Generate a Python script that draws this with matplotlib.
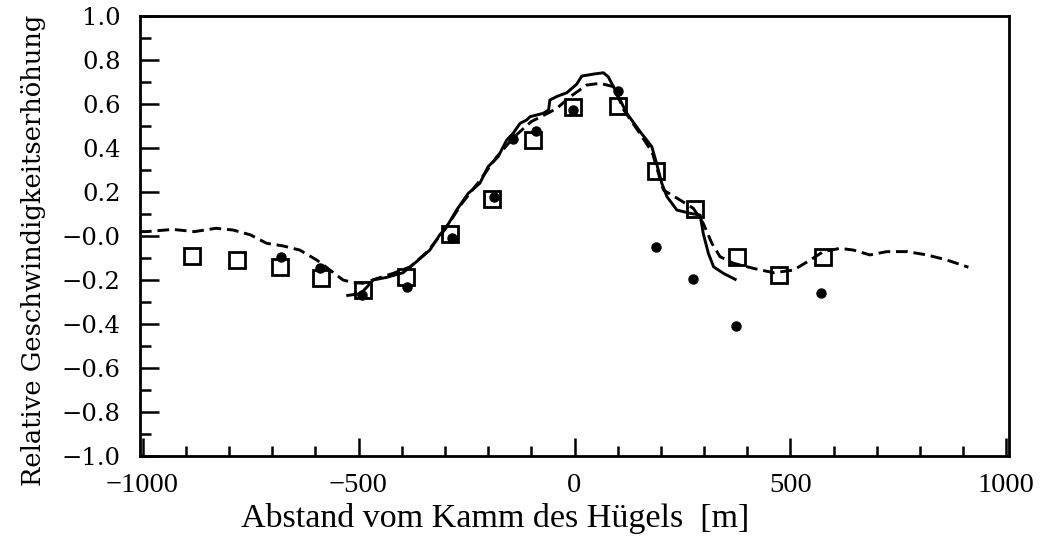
import matplotlib
matplotlib.use("Agg")
import matplotlib.pyplot as plt
from matplotlib.ticker import MultipleLocator, FixedLocator

# ---- data ----
square_x = [-885, -782, -682, -586, -490, -390, -288, -190, -95, -3, 100, 189, 278, 376, 474, 576]
square_y = [-0.09, -0.11, -0.14, -0.19, -0.245, -0.185, 0.01, 0.17, 0.436, 0.588, 0.59, 0.295, 0.121, -0.094, -0.179, -0.094]

dot_x = [-680, -590, -493, -388, -284, -186, -143, -89, -3, 100, 189, 275, 373, 570]
dot_y = [-0.094, -0.147, -0.268, -0.23, -0.01, 0.179, 0.44, 0.478, 0.575, 0.658, -0.049, -0.197, -0.409, -0.26]

solid_x = [-525, -495, -475, -466, -435, -397, -366, -335, -312, -296, -273, -246, -219,
           -200, -177, -157, -142, -126, -111, -103, -72, -60, -57, -40, -18, 5, 17, 44,
           67, 78, 94, 121, 152, 179, 190, 202, 214, 237, 268, 291, 298, 310, 322, 345, 372]
solid_y = [-0.27, -0.262, -0.22, -0.2, -0.188, -0.167, -0.117, -0.064, 0.005, 0.042, 0.118,
           0.194, 0.24, 0.315, 0.36, 0.436, 0.467, 0.512, 0.527, 0.542, 0.558, 0.573, 0.618,
           0.635, 0.651, 0.69, 0.727, 0.736, 0.742, 0.724, 0.664, 0.558, 0.474, 0.406, 0.33,
           0.24, 0.179, 0.118, 0.103, 0.095, 0.012, -0.079, -0.14, -0.17, -0.197]

dash_x = [-1006, -990, -930, -880, -830, -790, -750, -713, -675, -636, -597, -566, -536,
          -512, -490, -460, -420, -380, -340, -300, -260, -220, -180, -140, -100, -60, -41,
          -10, 28, 59, 90, 115, 150, 180, 195, 206, 244, 275, 298, 318, 337, 368, 414, 461,
          507, 546, 576, 615, 646, 684, 723, 770, 816, 862, 912]
dash_y = [0.02, 0.02, 0.03, 0.02, 0.035, 0.027, 0.005, -0.033, -0.045, -0.064, -0.109,
          -0.155, -0.2, -0.212, -0.215, -0.195, -0.17, -0.14, -0.07, 0.03, 0.15, 0.25, 0.36,
          0.45, 0.52, 0.56, 0.58, 0.633, 0.686, 0.694, 0.679, 0.57, 0.47, 0.38, 0.28, 0.209,
          0.164, 0.126, 0.058, -0.033, -0.094, -0.124, -0.147, -0.167, -0.155, -0.109, -0.071,
          -0.056, -0.064, -0.086, -0.071, -0.071, -0.086, -0.109, -0.142]

xtick_vals = [-1000, -500, 0, 500, 1000]
xtick_labels = ["\u22121000", "\u2212500", "0", "500", "1000"]
ytick_vals = [1.0, 0.8, 0.6, 0.4, 0.2, 0.0, -0.2, -0.4, -0.6, -0.8, -1.0]
ytick_labels = ["1.0", "0.8", "0.6", "0.4", "0.2", "\u22120.0", "\u22120.2", "\u22120.4",
                "\u22120.6", "\u22120.8", "\u22121.0"]

xlabel = "Abstand vom Kamm des Hügels  [m]"
ylabel = "Relative Geschwindigkeitserhöhung"

# ---- figure ----
fig = plt.figure(figsize=(10.4, 5.43), dpi=100)
ax = fig.add_axes([140 / 1040, 1 - 456 / 543, (1009 - 140) / 1040, (456 - 16) / 543])

ax.plot(dash_x, dash_y, color="black", lw=2.1, linestyle=(0, (4, 2)))
ax.plot(solid_x, solid_y, color="black", lw=2.1)
ax.plot(square_x, square_y, linestyle="none", marker="s", markersize=12,
        markerfacecolor="none", markeredgecolor="black", markeredgewidth=2.0)
ax.plot(dot_x, dot_y, linestyle="none", marker="o", markersize=6.5, color="black")

ax.set_xlim(-1006, 1006)
ax.set_ylim(-1.0, 1.0)

ax.xaxis.set_major_locator(FixedLocator(xtick_vals))
ax.set_xticklabels(xtick_labels)
ax.xaxis.set_minor_locator(MultipleLocator(100))
ax.yaxis.set_major_locator(FixedLocator(ytick_vals))
ax.set_yticklabels(ytick_labels)
ax.yaxis.set_minor_locator(MultipleLocator(0.1))

ax.tick_params(axis="both", which="both", direction="in", width=1.8, color="black")
ax.tick_params(axis="y", which="major", length=14, pad=14)
ax.tick_params(axis="y", which="minor", length=8)
ax.tick_params(axis="x", which="major", length=13, pad=12)
ax.tick_params(axis="x", which="minor", length=7)
ax.tick_params(top=False, right=False, which="both")

for lab in ax.get_yticklabels():
    lab.set_fontfamily("DejaVu Serif")
    lab.set_fontsize(17.5)
for lab in ax.get_xticklabels():
    lab.set_fontfamily("Liberation Serif")
    lab.set_fontsize(20.5)

for s in ax.spines.values():
    s.set_linewidth(2.0)

fig.text(495 / 1040, 1 - 518 / 543, xlabel, fontfamily="Liberation Serif", fontsize=24.5,
         ha="center", va="center")
fig.text(34 / 1040, 1 - 250 / 543, ylabel, fontfamily="DejaVu Serif", fontsize=18.5,
         ha="center", va="center", rotation=90)

fig.savefig("out.png", dpi=100)
